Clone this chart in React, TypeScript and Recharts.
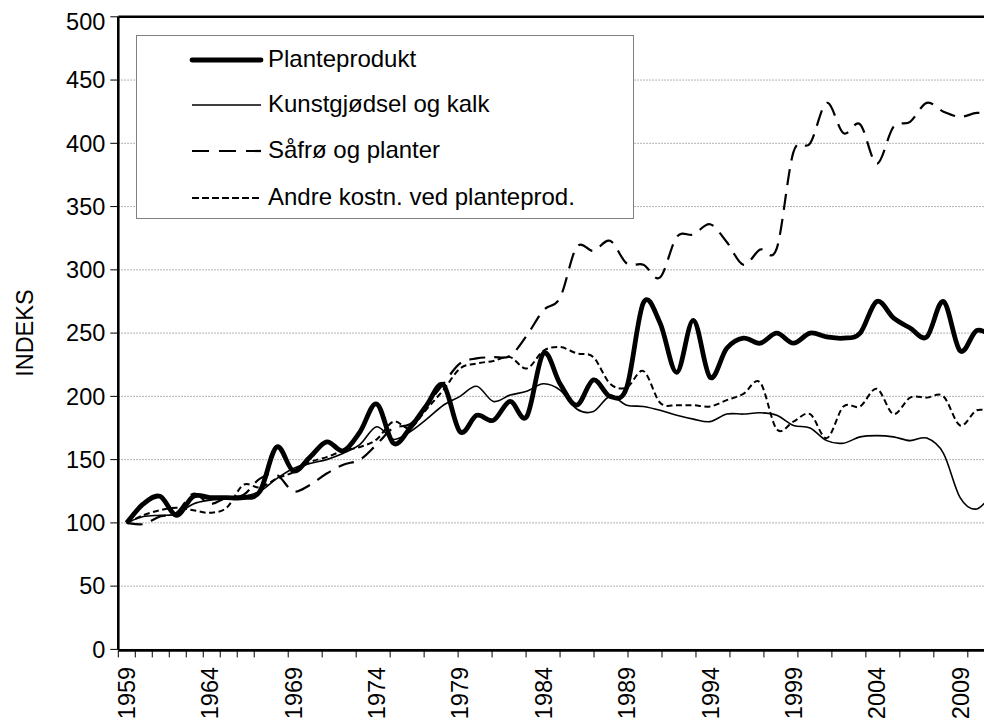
import React from 'react';
import { LineChart, Line, XAxis, YAxis, CartesianGrid, ReferenceLine } from 'recharts';

const years = [
  1959, 1960, 1961, 1962, 1963, 1964, 1965, 1966, 1967, 1968,
  1969, 1970, 1971, 1972, 1973, 1974, 1975, 1976, 1977, 1978,
  1979, 1980, 1981, 1982, 1983, 1984, 1985, 1986, 1987, 1988,
  1989, 1990, 1991, 1992, 1993, 1994, 1995, 1996, 1997, 1998,
  1999, 2000, 2001, 2002, 2003, 2004, 2005, 2006, 2007, 2008,
  2009, 2010, 2011,
];

const planteprodukt = [
  100, 115, 121, 106, 121, 120, 120, 120, 125, 160,
  141, 152, 164, 157, 172, 194, 163, 175, 193, 209,
  172, 185, 181, 196, 184, 234, 210, 193, 213, 200,
  207, 274, 258, 219, 260, 215, 238, 246, 242, 250,
  242, 250, 247, 246, 250, 275, 262, 254, 247, 275,
  236, 252, 247,
];

const kunstgjodsel = [
  100, 105, 106, 107, 115, 118, 119, 121, 125, 135,
  143, 147, 150, 155, 162, 176, 166, 172, 182, 193,
  200, 208, 196, 201, 204, 210, 205, 190, 188, 200,
  193, 192, 189, 185, 182, 180, 186, 186, 187, 185,
  177, 175, 165, 163, 168, 169, 168, 165, 167, 155,
  120, 111, 124,
];

const safro = [
  100, 99, 105, 108, 123, 115, 120, 122, 135, 138,
  125, 130, 139, 146, 150, 162, 175, 178, 193, 210,
  226, 230, 231, 232, 248, 268, 278, 318, 315, 323,
  305, 304, 294, 326, 328, 336, 322, 304, 316, 317,
  393, 400, 432, 408, 415, 384, 413, 417, 432, 425,
  421, 424, 423,
];

const andre = [
  100, 106, 110, 112, 110, 108, 112, 130, 128, 135,
  140, 148, 152, 157, 160, 166, 180, 175, 190, 205,
  222, 226, 228, 231, 222, 236, 239, 234, 231, 210,
  207, 220, 195, 193, 193, 192, 197, 202, 211, 174,
  180, 186, 167, 192, 192, 206, 186, 199, 199, 200,
  177, 189, 187,
];

const yTicks = [0, 50, 100, 150, 200, 250, 300, 350, 400, 450, 500];
const boundaryTicks = Array.from({ length: years.length + 1 }, (_, i) => i);

const seriesNames = ['Planteprodukt', 'Kunstgjødsel og kalk', 'Såfrø og planter', 'Andre kostn. ved planteprod.'];
const seriesKeys = ['plante', 'kunst', 'safro', 'andre'];
const seriesWidths = [4.8, 1.6, 2.2, 2];
const seriesDash = ['', '', '16 9', '6 3.5'];

const data = years.map((y, i) => ({
  year: y,
  plante: planteprodukt[i],
  kunst: kunstgjodsel[i],
  safro: safro[i],
  andre: andre[i],
}));

const FONT = '"Liberation Sans", Arial, sans-serif';
const FS = 23.5;
const LFS = 24;

// Excel-like smoothed line (Catmull-Rom via cubic Bezier)
const excelCurve = (context: any) => {
  let pts: number[][] = [];
  return {
    areaStart() {},
    areaEnd() {},
    lineStart() {
      pts = [];
    },
    lineEnd() {
      const n = pts.length;
      if (!n) return;
      context.moveTo(pts[0][0], pts[0][1]);
      for (let i = 0; i < n - 1; i++) {
        const p0 = pts[i - 1] || pts[i];
        const p1 = pts[i];
        const p2 = pts[i + 1];
        const p3 = pts[i + 2] || p2;
        context.bezierCurveTo(
          p1[0] + (p2[0] - p0[0]) / 6,
          p1[1] + (p2[1] - p0[1]) / 6,
          p2[0] - (p3[0] - p1[0]) / 6,
          p2[1] - (p3[1] - p1[1]) / 6,
          p2[0],
          p2[1]
        );
      }
    },
    point(x: number, y: number) {
      pts.push([+x, +y]);
    },
  };
};

const YearTick = (props: any) => {
  const { x, y, payload } = props;
  const ty = y + 17.5;
  return (
    <text
      x={x}
      y={ty}
      transform={`rotate(-90, ${x}, ${ty})`}
      textAnchor="end"
      dy="0.36em"
      fontSize={FS}
      fontFamily={FONT}
      fill="#000"
    >
      {payload.value}
    </text>
  );
};

const EmptyTick = () => <g />;

const YLabel = (props: any) => {
  const { viewBox } = props;
  const cx = viewBox.x + 17;
  const cy = viewBox.y + viewBox.height / 2;
  return (
    <text
      x={cx}
      y={cy}
      transform={`rotate(-90, ${cx}, ${cy})`}
      textAnchor="middle"
      dy="0.36em"
      fontSize={FS}
      fontFamily={FONT}
      fill="#000"
    >
      INDEKS
    </text>
  );
};

const rowCenters = [24, 69, 115, 162];

const LegendBox = () => (
  <div
    style={{
      position: 'absolute',
      left: 128,
      top: 27,
      width: 498,
      height: 184,
      boxSizing: 'border-box',
      border: '1px solid #808080',
      background: '#fff',
      fontFamily: FONT,
      fontSize: LFS,
      color: '#000',
    }}
  >
    {seriesNames.map((name, i) => (
      <React.Fragment key={name}>
        <svg
          width={76}
          height={12}
          style={{ position: 'absolute', left: 51, top: rowCenters[i] - 6 }}
        >
          <line
            x1={4}
            x2={73}
            y1={6}
            y2={6}
            stroke="#000"
            strokeWidth={seriesWidths[i]}
            strokeDasharray={i === 2 ? '17 10' : i === 3 ? '7 3' : undefined}
            strokeLinecap={i === 0 ? 'round' : 'butt'}
          />
        </svg>
        <span
          style={{
            position: 'absolute',
            left: 131,
            top: rowCenters[i] - 15,
            lineHeight: '28px',
            whiteSpace: 'nowrap',
          }}
        >
          {name}
        </span>
      </React.Fragment>
    ))}
  </div>
);

export default function App() {
  return (
    <div style={{ position: 'relative', width: 984, height: 719, overflow: 'hidden', background: '#fff' }}>
      <LineChart
        width={1000}
        height={719}
        data={data}
        margin={{ top: 8.8, right: 6.2, left: 0, bottom: 75.6 }}
      >
        <CartesianGrid
          vertical={false}
          stroke="#9a9a9a"
          strokeDasharray="1.5 1.5"
          strokeWidth={1}
        />
        <XAxis
          xAxisId="tk"
          type="number"
          domain={[0, years.length]}
          ticks={boundaryTicks}
          allowDataOverflow
          height={1}
          tick={<EmptyTick />}
          tickSize={7}
          tickLine={{ stroke: '#000', strokeWidth: 1 }}
          axisLine={{ stroke: '#000', strokeWidth: 2.6 }}
        />
        <XAxis
          xAxisId="lab"
          dataKey="year"
          type="category"
          scale="band"
          height={1}
          interval={4}
          tickLine={false}
          axisLine={false}
          tickSize={0}
          tickMargin={0}
          tick={<YearTick />}
        />
        <YAxis
          domain={[0, 500]}
          ticks={yTicks}
          width={110.3}
          tickSize={8}
          tickMargin={5}
          tickLine={{ stroke: '#000', strokeWidth: 1 }}
          axisLine={{ stroke: '#000', strokeWidth: 2.6 }}
          tick={{ fontSize: FS, fill: '#000', fontFamily: FONT }}
          label={<YLabel />}
        />
        <ReferenceLine y={500} xAxisId="lab" stroke="#000" strokeWidth={2.6} />
        {seriesKeys.map((k, i) => (
          <Line
            key={k}
            xAxisId="lab"
            dataKey={k}
            type={excelCurve as any}
            stroke="#000"
            strokeWidth={seriesWidths[i]}
            strokeDasharray={seriesDash[i] || undefined}
            dot={false}
            activeDot={false}
            isAnimationActive={false}
          />
        ))}
      </LineChart>
      <LegendBox />
    </div>
  );
}
